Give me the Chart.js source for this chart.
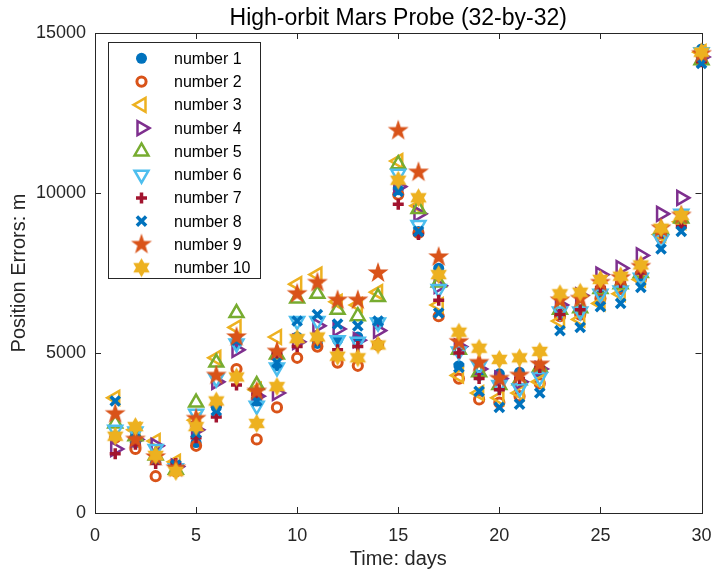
<!DOCTYPE html>
<html>
<head>
<meta charset="utf-8">
<script src="https://cdn.jsdelivr.net/npm/chart.js@4.4.1/dist/chart.umd.min.js"></script>
<style>
  html, body { margin: 0; padding: 0; background: #fff; }
</style>
</head>
<body>
<canvas id="marsChart" width="712" height="573"></canvas>
<script>
// Position errors per day
var days = [1, 2, 3, 4, 5, 6, 7, 8, 9, 10, 11, 12, 13, 14, 15, 16, 17, 18, 19, 20, 21, 22, 23, 24, 25, 26, 27, 28, 29, 30];
var number1 = [2400, 2200, 1850, 1450, 2200, 3300, 5300, 3500, 4600, 5500, 5300, 5400, 5500, 5900, 10100, 8800, 7650, 4600, 4300, 4350, 4400, 4400, 6200, 6300, 6800, 7000, 7400, 8700, 9200, 14500];
var number2 = [2350, 2000, 1150, 1300, 2100, 3400, 4500, 2300, 3300, 4850, 5200, 4700, 4600, 5250, 9950, 8750, 6150, 4200, 3550, 3450, 3650, 4050, 6150, 6200, 6700, 7000, 7300, 8600, 9150, 14300];
var number3 = [3600, 2600, 2250, 1600, 2900, 4850, 5800, 3850, 5500, 7150, 7450, 6600, 6500, 6900, 11000, 9600, 6500, 4300, 3750, 3600, 3750, 4100, 6000, 6050, 6550, 6850, 7300, 8700, 9100, 14400];
var number4 = [2000, 2300, 2100, 1450, 2600, 4100, 5100, 3650, 3750, 5350, 5850, 5750, 5400, 5700, 10200, 9350, 7100, 5200, 4500, 4200, 4100, 4500, 6500, 6800, 7450, 7650, 8050, 9350, 9850, 14250];
var number5 = [2800, 2400, 1800, 1350, 3450, 4700, 6250, 4000, 4950, 6700, 6850, 6350, 6150, 6750, 10900, 9500, 7200, 5100, 4400, 4000, 4150, 4550, 6350, 6400, 7000, 7150, 7500, 8850, 9200, 14150];
var number6 = [2600, 2550, 2000, 1400, 3100, 4200, 5300, 3350, 4550, 6000, 6000, 5400, 5350, 5950, 10600, 9000, 7000, 5050, 4600, 4000, 3900, 4250, 6300, 6300, 6850, 6950, 7350, 8550, 9350, 14400];
var number7 = [1850, 2150, 1550, 1550, 2350, 3000, 4000, 3700, 5000, 5200, 5400, 5100, 5200, 5300, 9650, 8700, 6650, 5000, 4200, 3850, 4200, 4550, 6200, 6350, 7050, 7200, 7500, 8750, 8950, 14100];
var number8 = [3500, 2300, 1700, 1500, 2500, 3200, 5400, 3500, 4700, 6000, 6200, 5900, 5850, 6000, 10050, 8800, 6250, 4550, 3800, 3300, 3400, 3750, 5700, 5800, 6450, 6550, 7050, 8250, 8800, 14050];
var number9 = [3100, 2300, 1750, 1400, 2950, 4300, 5500, 3800, 5050, 6850, 7200, 6650, 6650, 7500, 11950, 10650, 8000, 5350, 4700, 4200, 4300, 4650, 6650, 6700, 7200, 7350, 7700, 8900, 9300, 14350];
var number10 = [2400, 2700, 1800, 1300, 2700, 3500, 4250, 2800, 3950, 5450, 5500, 4900, 4850, 5250, 10400, 9850, 7450, 5650, 5150, 4800, 4850, 5050, 6850, 6900, 7300, 7400, 7750, 8900, 9300, 14400];

var seriesNames = ['number 1', 'number 2', 'number 3', 'number 4', 'number 5', 'number 6', 'number 7', 'number 8', 'number 9', 'number 10'];
var allSeries = [number1, number2, number3, number4, number5, number6, number7, number8, number9, number10];
var titleText = 'High-orbit Mars Probe (32-by-32)';

var FONT = '"Liberation Sans", Arial, Helvetica, sans-serif';
var AXIS_COLOR = '#262626';

// filled star shapes for pentagram / hexagram markers
function starImage(color, outer, inner, points) {
  var c = document.createElement('canvas');
  var s = Math.ceil(outer * 2 + 2);
  c.width = s; c.height = s;
  var g = c.getContext('2d');
  g.fillStyle = color;
  g.beginPath();
  for (var i = 0; i < points * 2; i++) {
    var r = i % 2 ? inner : outer;
    var ang = -Math.PI / 2 + i * Math.PI / points;
    g.lineTo(s / 2 + r * Math.cos(ang), s / 2 + r * Math.sin(ang));
  }
  g.closePath();
  g.fill();
  return c;
}

var none = 'rgba(0,0,0,0)';
var markers = [
  { color: '#0072BD', style: 'circle', radius: 5.5, fill: true, bw: 0 },
  { color: '#D95319', style: 'circle', radius: 4.6, fill: false, bw: 3 },
  { color: '#EDB120', style: 'triangle', rot: -90, radius: 8, fill: false, bw: 2.5 },
  { color: '#7E2F8E', style: 'triangle', rot: 90, radius: 8, fill: false, bw: 2.5 },
  { color: '#77AC30', style: 'triangle', rot: 0, radius: 8, fill: false, bw: 2.5 },
  { color: '#4DBEEE', style: 'triangle', rot: 180, radius: 8, fill: false, bw: 2.5 },
  { color: '#A2142F', style: 'cross', radius: 5.5, fill: false, bw: 3.5 },
  { color: '#0072BD', style: 'crossRot', radius: 6.5, fill: false, bw: 3.5 },
  { color: '#D95319', style: starImage('#D95319', 11, 4.3, 5), radius: 10, fill: true, bw: 0 },
  { color: '#EDB120', style: starImage('#EDB120', 9.5, 5.5, 6), radius: 9, fill: true, bw: 0 }
];

var datasets = allSeries.map(function(vals, i) {
  var m = markers[i];
  return {
    label: seriesNames[i],
    data: days.map(function(d, j) { return { x: d, y: vals[j] }; }),
    pointStyle: m.style,
    rotation: m.rot || 0,
    pointRadius: m.radius,
    pointHoverRadius: m.radius,
    pointBorderWidth: m.bw,
    borderColor: m.color,
    backgroundColor: m.fill ? m.color : none,
    showLine: false,
    clip: false,
    order: 10 - i
  };
});

// MATLAB-style box with inward ticks on all four sides, title over the axes
var axesBox = {
  id: 'axesBox',
  beforeDatasetsDraw: function(chart) {
    var ctx = chart.ctx, a = chart.chartArea;
    var xs = chart.scales.x, ys = chart.scales.y;
    ctx.save();
    ctx.strokeStyle = AXIS_COLOR;
    ctx.lineWidth = 1;
    ctx.beginPath();
    xs.ticks.forEach(function(t) {
      var px = Math.round(xs.getPixelForValue(t.value)) + 0.5;
      ctx.moveTo(px, a.bottom); ctx.lineTo(px, a.bottom - 6);
      ctx.moveTo(px, a.top); ctx.lineTo(px, a.top + 6);
    });
    ys.ticks.forEach(function(t) {
      var py = Math.round(ys.getPixelForValue(t.value)) + 0.5;
      ctx.moveTo(a.left, py); ctx.lineTo(a.left + 6, py);
      ctx.moveTo(a.right, py); ctx.lineTo(a.right - 6, py);
    });
    ctx.stroke();
    ctx.strokeRect(Math.round(a.left) + 0.5, Math.round(a.top) + 0.5,
      Math.round(a.right - a.left), Math.round(a.bottom - a.top));

    ctx.fillStyle = '#000';
    ctx.font = '23px ' + FONT;
    ctx.textAlign = 'center';
    ctx.textBaseline = 'middle';
    ctx.fillText(titleText, (a.left + a.right) / 2, 18.5);
    ctx.restore();
  }
};

// boxed legend in the upper left corner
var boxLegend = {
  id: 'boxLegend',
  afterDatasetsDraw: function(chart) {
    var ctx = chart.ctx;
    var left = 108.5, top = 42.5, w = 152, h = 236;
    ctx.save();
    ctx.fillStyle = '#fff';
    ctx.fillRect(left, top, w, h);
    ctx.strokeStyle = AXIS_COLOR;
    ctx.lineWidth = 1;
    ctx.strokeRect(left, top, w, h);
    chart.data.datasets.forEach(function(ds, i) {
      var y = 58.3 + i * 23.27;
      ctx.fillStyle = ds.backgroundColor;
      ctx.strokeStyle = ds.borderColor;
      ctx.lineWidth = ds.pointBorderWidth;
      Chart.helpers.drawPoint(ctx, {
        pointStyle: ds.pointStyle,
        rotation: ds.rotation,
        radius: ds.pointRadius,
        borderWidth: ds.pointBorderWidth
      }, 141.5, y);
      ctx.fillStyle = '#000';
      ctx.font = '16px ' + FONT;
      ctx.textBaseline = 'middle';
      ctx.textAlign = 'left';
      ctx.fillText(ds.label, 174, y + 1);
    });
    ctx.restore();
  }
};

var chart = new Chart(document.getElementById('marsChart'), {
  type: 'scatter',
  data: { datasets: datasets },
  options: {
    responsive: false,
    animation: false,
    devicePixelRatio: 1,
    layout: { padding: { left: 0, right: 9, top: 33, bottom: 0 } },
    plugins: {
      legend: { display: false },
      tooltip: { enabled: false },
      title: { display: false }
    },
    scales: {
      x: {
        type: 'linear',
        min: 0,
        max: 30,
        grid: { display: false, drawTicks: false },
        border: { display: false },
        ticks: {
          stepSize: 5,
          color: AXIS_COLOR,
          padding: 12,
          font: { family: FONT, size: 18 },
          callback: function(v) { return String(v); }
        },
        title: {
          display: true,
          text: 'Time: days',
          color: AXIS_COLOR,
          font: { family: FONT, size: 20 },
          padding: { top: 0, bottom: 2 }
        },
        afterFit: function(s) { s.height = 60; s.paddingLeft = 0; s.paddingRight = 0; }
      },
      y: {
        type: 'linear',
        min: 0,
        max: 15000,
        grid: { display: false, drawTicks: false },
        border: { display: false },
        ticks: {
          stepSize: 5000,
          color: AXIS_COLOR,
          padding: 9,
          font: { family: FONT, size: 18 },
          callback: function(v) { return String(v); }
        },
        title: {
          display: true,
          text: 'Position Errors: m',
          color: AXIS_COLOR,
          font: { family: FONT, size: 20 },
          padding: { top: 7, bottom: 0 }
        },
        afterFit: function(s) { s.width = 95; s.paddingTop = 0; s.paddingBottom = 0; }
      }
    }
  },
  plugins: [axesBox, boxLegend]
});
</script>
</body>
</html>
